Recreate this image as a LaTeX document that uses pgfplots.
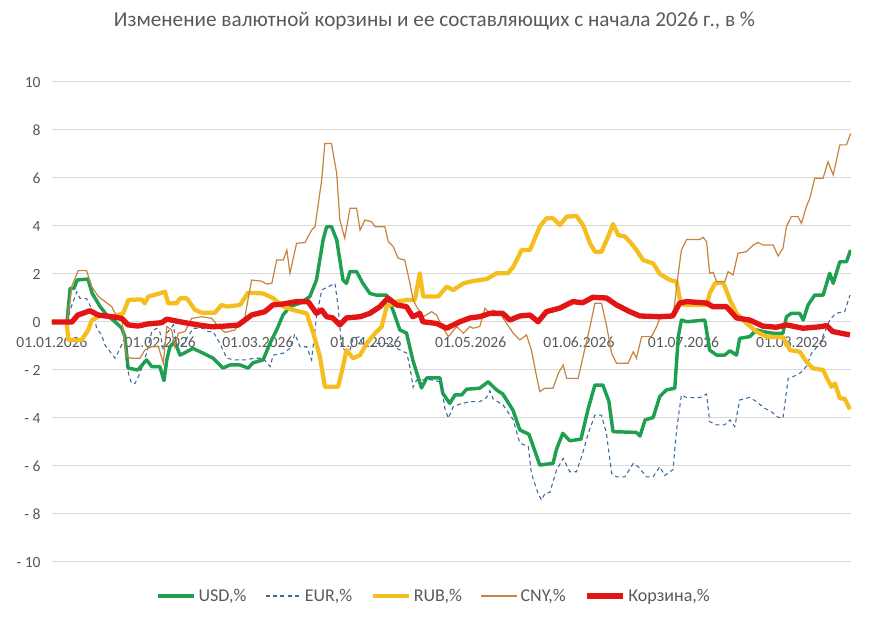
\documentclass[border=0pt]{standalone}
\usepackage{pgfplots}
\pgfplotsset{compat=1.18}
\usepackage{fontspec}
\setmainfont{Carlito}
\definecolor{usd}{HTML}{1EA050}
\definecolor{eur}{HTML}{3A6A9A}
\definecolor{rub}{HTML}{F4BE1E}
\definecolor{cny}{HTML}{C5843F}
\definecolor{bsk}{HTML}{E31414}
\definecolor{txt}{HTML}{595959}
\definecolor{grd}{HTML}{D9D9D9}
\begin{document}
\begin{tikzpicture}
\useasboundingbox (-39pt,-44.25pt) rectangle (612.75pt,421.5pt);
\begin{axis}[
  at={(0,0)}, anchor=south west,
  scale only axis, width=599.25pt, height=360pt,
  xmin=0, xmax=229, ymin=-10, ymax=10,
  axis x line=middle, axis y line=left,
  x axis line style={draw=grd, line width=0.75pt, -},
  y axis line style={draw=none},
  hide obscured x ticks=false, hide obscured y ticks=false,
  major tick length=0pt,
  xtick={0,31,59,90,120,151,181,212},
  xticklabels={01.01.2026,01.02.2026,01.03.2026,01.04.2026,01.05.2026,01.06.2026,01.07.2026,01.08.2026},
  ytick={-10,-8,-6,-4,-2,0,2,4,6,8,10},
  yticklabels={- 10,- 8,- 6,- 4,- 2,0,2,4,6,8,10},
  /pgf/number format/assume math mode=true,
  ticklabel style={font=\fontsize{11.7}{14}\selectfont, text=txt},
  xticklabel style={anchor=north, yshift=-7.5pt},
  yticklabel style={anchor=east, xshift=-5pt},
  ymajorgrids, grid style={draw=grd, line width=0.75pt},
  title={Изменение валютной корзины и ее составляющих с начала 2026 г., в \%},
  title style={at={(0.4787,1.11)}, anchor=center, yshift=0pt, font=\fontsize{15.9}{19}\selectfont, text=txt},
  legend columns=5,
  legend style={at={(0.4787,-0.0708)}, anchor=center, draw=none, fill=none,
    font=\fontsize{13.5}{16}\selectfont, text=txt,
    /tikz/every even column/.append style={column sep=12pt}},
  legend image code/.code={\draw[#1] (0pt,0pt) -- (27pt,0pt);},
  legend cell align=left,
]
% USD
\addplot[usd, line width=2.6pt, line join=round] coordinates {
(0,0)(4.3,0)(5.2,1.4)(6.3,1.4)(7.2,1.75)(10.3,1.79)(11.5,1.2)(13.8,0.64)(15.7,0.29)(18.1,0.01)(20.0,-0.26)(20.9,-0.61)(21.8,-1.92)(24.6,-2.0)(27.1,-1.58)(28.6,-1.86)(30.9,-1.86)(32.1,-2.44)(32.9,-1.58)(33.8,-1.03)(35.2,-0.82)(36.7,-1.38)(38.6,-1.24)(40.4,-1.1)(43.3,-1.3)(46.1,-1.5)(49.0,-1.92)(51.0,-1.79)(53.9,-1.79)(56.2,-1.92)(57.6,-1.7)(60.5,-1.58)(62.5,-0.88)(64.4,-0.33)(66.2,0.29)(68.2,0.64)(71.1,0.79)(73.9,1.06)(75.8,1.75)(77.7,3.42)(78.7,3.97)(80.1,3.97)(81.6,3.42)(83.4,1.75)(84.4,1.61)(85.4,2.1)(87.3,2.1)(89.1,1.61)(91.1,1.19)(93.0,1.12)(95.9,1.12)(97.7,0.5)(99.7,-0.33)(101.6,-0.46)(103.4,-1.58)(104.9,-2.28)(105.9,-2.75)(107.4,-2.33)(111.2,-2.33)(112.0,-2.97)(114.0,-3.39)(115.5,-3.04)(117.4,-3.04)(118.8,-2.8)(122.6,-2.76)(125.0,-2.49)(127.4,-2.83)(129.2,-3.0)(132.1,-3.67)(134.1,-4.5)(136.7,-4.68)(139.8,-5.96)(143.6,-5.89)(144.6,-5.3)(146.4,-4.64)(148.4,-4.95)(151.6,-4.88)(153.7,-3.6)(155.6,-2.63)(157.9,-2.63)(159.6,-3.3)(160.8,-4.57)(167.5,-4.6)(168.5,-4.75)(170.0,-4.08)(172.3,-3.98)(174.2,-3.1)(176.1,-2.83)(178.5,-2.76)(179.5,-0.61)(180.4,0.08)(181.9,0.01)(187.1,0.08)(188.5,-1.17)(190.5,-1.38)(192.8,-1.38)(194.3,-1.2)(196.2,-1.38)(197.1,-0.68)(200.0,-0.61)(201.9,-0.33)(203.8,-0.4)(206.7,-0.47)(209.5,-0.47)(210.5,0.22)(211.9,0.36)(214.3,0.36)(215.3,0.08)(216.7,0.71)(218.6,1.12)(221.0,1.12)(222.9,2.03)(223.9,1.61)(225.8,2.51)(227.7,2.51)(228.9,3.0)
};
\addlegendentry{USD,\%}
% EUR
\addplot[eur, line width=0.8pt, dash pattern=on 3pt off 2.5pt] coordinates {
(0,0)(4.3,0)(5.2,0.5)(7.1,1.26)(8.0,0.99)(9.9,0.97)(11.8,0.43)(12.8,-0.26)(14.2,-0.54)(15.2,-0.96)(18.1,-1.51)(19.5,-1.1)(20.9,-0.68)(21.9,-2.14)(22.8,-2.56)(23.8,-2.56)(25.2,-2.14)(27.1,-1.3)(28.6,-0.4)(30.0,-0.26)(30.9,-0.4)(31.9,-1.17)(32.9,-0.47)(34.8,-0.12)(35.7,-1.03)(37.2,-0.96)(38.6,-0.68)(40.5,-0.26)(43.4,-0.26)(44.8,-0.4)(46.2,-0.4)(48.1,-0.89)(50.1,-1.51)(52.4,-1.58)(55.8,-1.58)(57.7,-1.51)(60.5,-1.51)(62.5,-1.86)(63.4,-1.38)(66.3,-1.3)(68.2,-1.1)(69.6,-0.5)(71.1,-1.03)(73.0,-1.03)(74.4,-1.58)(75.8,0.22)(77.3,1.33)(78.2,1.4)(81.1,1.61)(82.0,0.64)(83.0,-1.03)(83.9,-1.17)(85.4,-1.17)(86.3,-0.68)(88.3,-0.61)(89.2,-1.03)(91.1,-1.03)(93.0,-0.89)(96.8,-0.89)(98.8,-1.1)(101.7,-1.3)(102.6,-1.9)(103.5,-2.72)(104.5,-2.42)(108.3,-2.4)(111.5,-2.5)(112.6,-3.6)(113.6,-4.01)(115.0,-3.53)(116.9,-3.42)(119.8,-3.32)(122.6,-3.32)(124.5,-3.15)(125.5,-2.87)(126.4,-3.2)(129.3,-3.46)(132.2,-4.08)(134.1,-5.05)(136.5,-5.19)(137.4,-6.31)(139.3,-7.14)(140.3,-7.42)(141.3,-7.14)(142.7,-7.1)(144.6,-6.17)(146.5,-5.68)(148.4,-6.24)(150.3,-6.24)(151.8,-5.61)(153.7,-4.64)(155.6,-3.88)(157.5,-3.88)(158.9,-4.64)(160.4,-6.31)(161.8,-6.45)(164.2,-6.45)(166.6,-5.89)(168.0,-6.03)(170.4,-6.45)(172.3,-6.45)(174.2,-6.03)(175.6,-6.4)(178.0,-6.15)(179.0,-4.5)(180.4,-3.04)(181.9,-3.15)(185.7,-3.15)(187.6,-3.0)(188.5,-4.15)(190.5,-4.29)(192.8,-4.29)(194.3,-4.08)(195.7,-4.36)(197.1,-3.25)(200.0,-3.14)(201.9,-3.32)(204.3,-3.6)(206.2,-3.74)(208.1,-3.97)(209.5,-4.01)(211.0,-2.35)(212.4,-2.28)(214.3,-2.14)(216.2,-1.86)(217.7,-1.3)(220.1,-0.89)(222.9,0.08)(224.6,0.36)(227.2,0.43)(228.7,1.12)
};
\addlegendentry{EUR,\%}
% RUB
\addplot[rub, line width=3.2pt, line join=round] coordinates {
(0,0)(4.2,0)(4.7,-0.75)(8.5,-0.75)(10.4,-0.33)(11.4,0.08)(14.2,0.29)(17.1,0.22)(20.4,0.36)(21.9,0.92)(25.7,0.94)(26.6,0.78)(27.6,1.06)(30.9,1.19)(32.4,1.26)(33.3,0.78)(35.7,0.78)(36.7,0.99)(38.6,0.99)(41.0,0.5)(42.9,0.39)(46.7,0.39)(48.6,0.71)(50.1,0.64)(53.9,0.71)(56.2,1.22)(60.5,1.19)(63.4,0.99)(66.3,0.64)(69.1,0.5)(73.0,0.36)(74.9,-0.47)(76.8,-1.45)(78.2,-2.7)(82.0,-2.7)(83.5,-1.79)(84.4,-1.17)(86.3,-1.51)(88.3,-1.38)(90.2,-0.89)(92.6,-0.47)(94.5,-0.19)(95.9,0.64)(98.8,0.85)(101.6,0.92)(104.0,0.92)(105.4,2.03)(106.4,1.06)(110.7,1.06)(113.1,1.47)(115.0,1.33)(117.9,1.61)(119.8,1.68)(122.6,1.75)(124.5,1.78)(127.4,2.03)(130.7,2.03)(132.2,2.3)(134.6,3.0)(137.0,3.0)(139.8,3.97)(141.7,4.32)(143.6,4.32)(145.6,4.04)(147.5,4.39)(150.3,4.42)(152.2,4.04)(154.2,3.28)(155.6,2.93)(157.5,2.93)(159.4,3.56)(160.8,4.08)(162.3,3.62)(164.2,3.56)(165.6,3.35)(167.5,3.0)(169.4,2.58)(172.3,2.44)(174.2,2.0)(177.1,1.75)(179.0,1.68)(180.0,0.92)(180.9,0.71)(187.6,0.71)(188.5,1.19)(190.0,1.61)(192.4,1.64)(194.3,0.92)(196.2,0.36)(199.1,-0.06)(201.9,-0.4)(204.8,-0.61)(209.5,-0.64)(211.5,-1.17)(214.3,-1.24)(216.2,-1.65)(218.1,-1.93)(221.0,-2.0)(222.4,-2.42)(223.4,-2.7)(224.4,-2.56)(225.8,-3.18)(227.2,-3.2)(228.7,-3.64)
};
\addlegendentry{RUB,\%}
% CNY
\addplot[cny, line width=0.9pt] coordinates {
(0,0)(4.3,0)(5.7,1.5)(7.5,2.14)(9.9,2.14)(11.4,1.47)(13.3,1.06)(15.2,0.85)(17.1,0.64)(18.1,0.36)(20.0,0.08)(21.4,-1.45)(22.8,-1.51)(25.2,-1.51)(26.6,-1.17)(28.6,-1.03)(30.5,-1.03)(31.9,-1.72)(32.9,-0.19)(34.3,-0.33)(35.2,-1.03)(36.2,-0.47)(38.1,-0.4)(40.0,0.15)(42.9,0.22)(45.8,0.15)(47.7,-0.19)(49.6,-0.44)(52.4,-0.33)(55.3,0.22)(57.2,1.75)(60.1,1.7)(61.5,1.58)(63.0,1.61)(64.4,2.58)(66.3,2.58)(67.3,3.0)(68.2,2.03)(70.1,3.28)(72.5,3.31)(74.4,3.83)(75.4,3.97)(77.3,5.92)(78.2,7.44)(80.1,7.44)(81.6,6.19)(82.5,4.25)(83.9,3.49)(85.4,4.74)(87.3,4.74)(88.3,3.83)(89.7,4.25)(91.6,4.18)(92.6,3.97)(95.4,3.97)(96.4,3.35)(97.8,3.14)(99.2,2.65)(101.1,2.58)(102.6,1.61)(103.5,0.92)(104.5,0.64)(106.4,0.22)(108.8,0.43)(110.2,0.29)(112.1,-0.26)(113.6,-0.61)(116.0,-0.19)(117.9,-0.47)(119.8,-0.19)(120.7,-0.26)(122.6,-0.19)(124.1,0.57)(125.5,0.36)(126.4,0.5)(128.4,0.36)(130.3,-0.06)(132.2,-0.47)(134.1,-0.75)(136.0,-0.54)(137.4,-1.17)(138.9,-2.28)(139.8,-2.9)(141.3,-2.76)(143.6,-2.76)(145.1,-2.14)(146.5,-1.79)(147.5,-2.35)(150.8,-2.35)(152.2,-1.45)(154.2,-0.19)(155.6,0.78)(157.5,0.78)(158.9,-0.12)(160.4,-1.3)(161.8,-1.72)(165.1,-1.72)(166.6,-1.24)(167.5,-1.51)(169.0,-0.61)(171.8,-0.61)(173.3,-0.19)(174.2,0.15)(178.0,0.22)(179.5,2.03)(180.4,3.0)(181.9,3.44)(185.7,3.44)(186.6,3.53)(187.6,3.35)(188.5,2.03)(189.5,2.07)(190.5,1.68)(192.8,1.68)(193.8,2.1)(195.2,1.96)(196.6,2.86)(199.0,2.93)(201.0,3.21)(202.4,3.31)(203.8,3.21)(206.7,3.21)(208.1,2.75)(209.5,3.07)(210.5,3.97)(211.9,4.39)(213.8,4.39)(214.8,4.11)(216.2,4.81)(217.2,5.15)(218.6,5.99)(221.0,5.99)(222.4,6.68)(223.9,6.13)(225.8,7.38)(227.7,7.38)(228.9,7.86)
};
\addlegendentry{CNY,\%}
% Basket
\addplot[bsk, line width=4pt, line join=round] coordinates {
(0,0)(5.7,0)(7.4,0.29)(10.9,0.47)(13.2,0.29)(17.1,0.22)(20.0,0.15)(21.8,-0.12)(24.6,-0.17)(27.5,-0.08)(31.4,-0.03)(32.9,0.12)(34.3,0.08)(38.1,-0.03)(41.8,-0.12)(45.8,-0.2)(49.6,-0.17)(53.3,-0.13)(55.3,0.08)(57.2,0.29)(61.0,0.43)(63.3,0.71)(66.2,0.75)(70.1,0.85)(73.4,0.85)(75.8,0.36)(77.3,0.5)(78.7,0.22)(80.5,0.17)(82.5,-0.12)(84.4,0.17)(88.3,0.22)(91.1,0.36)(94.0,0.64)(96.3,1.0)(98.8,0.71)(101.6,0.64)(103.4,0.22)(105.4,0.36)(106.3,0.01)(110.2,-0.06)(113.1,-0.26)(116.9,0.01)(119.8,0.17)(122.6,0.22)(125.5,0.36)(129.2,0.36)(131.2,0.08)(134.1,0.25)(137.0,0.29)(139.3,0.01)(141.7,0.43)(145.6,0.58)(149.3,0.85)(152.1,0.8)(155.0,1.03)(158.9,1.0)(161.8,0.71)(165.6,0.43)(168.5,0.25)(174.2,0.22)(177.9,0.25)(179.9,0.79)(181.9,0.85)(187.6,0.79)(189.4,0.64)(193.3,0.64)(196.2,0.17)(200.0,0.08)(203.7,-0.17)(207.6,-0.22)(210.5,-0.12)(215.2,-0.26)(220.1,-0.2)(222.0,-0.15)(223.8,-0.4)(228.7,-0.54)
};
\addlegendentry{Корзина,\%}
\end{axis}
\end{tikzpicture}
\end{document}
